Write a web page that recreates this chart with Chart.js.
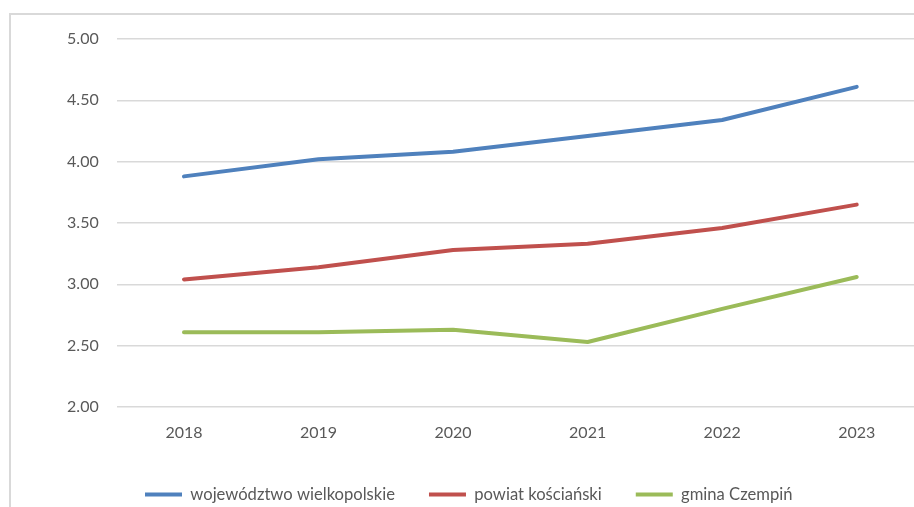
<!DOCTYPE html>
<html><head><meta charset="utf-8">
<script src="https://cdn.jsdelivr.net/npm/chart.js@4/dist/chart.umd.min.js"></script>
<style>
html,body{margin:0;padding:0;background:#fff;overflow:hidden;width:914px;height:507px;}
#frame{position:absolute;left:9px;top:13px;width:1000px;height:600px;border-left:2px solid #d9d9d9;border-top:2px solid #d9d9d9;box-sizing:border-box;}
#wrap{position:absolute;left:0;top:0;width:940px;height:507px;}
</style></head>
<body>
<div id="frame"></div>
<div id="wrap"><canvas id="c" width="940" height="507"></canvas></div>
<script>
const categories = ['2018','2019','2020','2021','2022','2023'];
const seriesNames = ['województwo wielkopolskie','powiat kościański','gmina Czempiń'];
const wojewodztwo = [3.88, 4.02, 4.08, 4.21, 4.34, 4.61];
const powiat = [3.04, 3.14, 3.28, 3.33, 3.46, 3.65];
const gmina = [2.61, 2.61, 2.63, 2.53, 2.80, 3.06];
const colors = ['#4F81BD','#C0504D','#9BBB59'];
const yMin = 2.0, yMax = 5.0, yStep = 0.5;

const values = [wojewodztwo, powiat, gmina];
const FONT = {family:'Lato', size:16};
const LFONT = {family:'Lato', size:16.6};

const legendPlacePlugin = {
  id:'legendPlace',
  afterInit(chart){
    const lg = chart.legend;
    if(!lg) return;
    const orig = lg.fit;
    lg.fit = function(){ orig.call(this); this.height = 54.8; };
  },
  afterLayout(chart){
    const lg = chart.legend;
    if(!lg) return;
    lg.left = 111;
  }
};

new Chart(document.getElementById('c'), {
  type:'line',
  data:{
    labels:categories,
    datasets: values.map((v,i)=>({
      label:seriesNames[i], data:v, borderColor:colors[i], backgroundColor:colors[i],
      borderWidth:4, pointRadius:0, tension:0, borderCapStyle:'round', borderJoinStyle:'round', fill:false
    }))
  },
  plugins:[legendPlacePlugin],
  options:{
    responsive:false, animation:false,
    layout:{padding:{left:0,right:16,top:39,bottom:0}},
    plugins:{
      tooltip:{enabled:false},
      legend:{
        position:'bottom', align:'start',
        labels:{
          color:'#595959', font:LFONT, boxWidth:37, boxHeight:4, padding:34,
          generateLabels(chart){
            return chart.data.datasets.map((d,i)=>({text:d.label, fillStyle:d.borderColor, strokeStyle:d.borderColor, lineWidth:0, datasetIndex:i, fontColor:'#595959'}));
          }
        }
      }
    },
    scales:{
      x:{
        offset:true,
        grid:{display:false}, border:{display:false},
        ticks:{color:'#595959', font:FONT, padding:8},
        afterFit(s){ s.height = 45.2; }
      },
      y:{
        min:yMin, max:yMax,
        grid:{color:'#d9d9d9', lineWidth:1.5, drawTicks:false}, border:{display:false},
        ticks:{stepSize:yStep, color:'#595959', font:FONT, padding:18, callback:v=>v.toFixed(2)},
        afterFit(s){ s.width = 116.7; }
      }
    }
  }
});
</script>
</body></html>
